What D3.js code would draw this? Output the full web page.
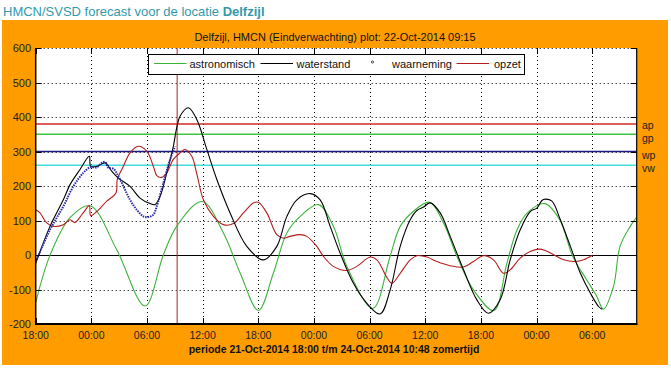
<!DOCTYPE html>
<html><head><meta charset="utf-8">
<script src="https://cdn.jsdelivr.net/npm/d3@7"></script>
<style>
body{margin:0;background:#fff;}
svg{display:block;font-family:Arial,"Liberation Sans",sans-serif;}
</style>
</head><body>
<svg id="c" width="671" height="368"></svg>
<script>
// ---- data (hours since 21-Oct-2014 18:00, water level in cm) ----
const startTime = new Date(2014, 9, 21, 18, 0);
const endTime = new Date(2014, 9, 24, 10, 48);
const plotTime = new Date(2014, 9, 22, 9, 15);

const astroHours = [0,1.54,3.7,5.86,8.74,11.79,13.76,15.2,17.94,20.24,22.04,24.01,25.63,27.08,28.51,30.49,32.1,33.55,36.35,38.2,39.3,40.7,42.46,43.97,45.42,47.2,49.4,50.8,51.9,53.0,54.9,56.5,57.9,59.4,60.5,61.2,62.3,63.0,64.1,64.8];
const astroValues = [-138,-1,108,143,15,-148,0,83,155,64,-52,-161,-52,64,112,146,83,-33,-155,-5,83,126,153,93,-4,-101,-161,-24,73,122,149,102,-4,-72,-120,-157,-91,25,83,110];

const waterHours = [0,1.54,2.98,3.7,4.78,5.78,5.93,6.58,7.48,8.2,8.91,10.17,11.25,12.33,12.86,13.41,14.13,14.84,15.21,15.57,16.46,17.37,18.45,19.53,20.96,22.76,24.55,26.0,27.08,28.16,29.59,30.67,31.75,32.83,34.26,35.71,37.14,38.22,39.3,40.38,41.1,41.82,42.54,43.61,44.69,46.13,47.57,48.82,50.08,51.16,52.24,53.32,54.04,54.58,54.94,55.66,56.57,57.65,58.73,59.81,60.71,61.06];
const waterValues = [-24,83,160,204,248,286,257,257,267,243,223,199,165,149,146,170,238,315,370,403,427,393,306,219,122,25,-14,25,112,160,178,160,83,5,-82,-140,-171,-101,25,102,129,139,151,122,54,-43,-130,-169,-130,-14,73,126,136,158,162,156,102,25,-53,-111,-150,-157];

const obsHours = [0,1.54,2.98,4.06,5.13,5.86,6.58,7.12,7.48,7.83,8.37,9.09,10.17,10.9,11.61,12.15,12.69,13.05,13.77,14.49,15.03];
const obsValues = [-20,73,141,199,238,254,254,267,270,253,250,219,160,131,112,110,117,141,209,277,315];

const surgeHours = [0,0.46,1.19,1.9,2.98,3.7,4.24,4.78,5.13,5.78,5.93,6.58,7.66,8.66,8.8,9.45,10.17,11.07,11.97,12.69,13.05,13.59,14.13,14.84,15.57,16.1,16.83,17.37,18.08,19.16,20.24,21.32,22.39,23.47,24.01,24.92,26.0,26.71,27.43,28.51,29.23,30.31,31.02,32.1,33.55,34.63,36.06,36.79,37.86,38.4,39.3,40.38,41.1,42.18,43.26,44.69,46.13,47.2,48.28,49.36,50.44,51.16,52.24,53.32,54.22,54.94,55.84,56.92,58.18,59.08,60.05];
const surgeValues = [131,122,93,83,88,102,94,110,122,143,114,126,156,180,219,257,296,315,301,257,230,225,238,277,296,306,286,235,160,112,88,91,122,151,153,122,59,49,54,59,54,25,-4,-33,-45,-33,-6,-14,-65,-82,-53,-14,-2,-6,-19,-31,-35,-19,-2,-14,-53,-43,-9,10,17,13,1,-14,-19,-14,0];

const levelNames = ["ap","gp","wp","vw"];
const levelValues = [380,350,300,260];

const yTickValues = [-200,-100,0,100,200,300,400,500,600];
const legendLabels = ["astronomisch","waterstand","waarneming","opzet"];

const pageTitle = "HMCN/SVSD forecast voor de locatie ";
const pageTitleBold = "Delfzijl";
const chartTitle = "Delfzijl, HMCN (Eindverwachting) plot: 22-Oct-2014 09:15";
const xLabel = "periode 21-Oct-2014 18:00 t/m 24-Oct-2014 10:48 zomertijd";

// ---- styles ----
const levelColors = ["#d42a2a","#3ec43e","#1a1a80","#40dede"];
const levelLabelOffsets = [5.5, 7.5, 7, 6.5];
const cAstro = "#3cb43c", cWater = "#000000", cObs = "#2a2aa8", cSurge = "#b41e1e";
const orange = "#ff9c00";

const toDate = h => new Date(startTime.getTime() + h * 3600e3);
const zip = (hs, vs) => hs.map((h, i) => ({t: toDate(h), v: vs[i]}));

const L = 35.7, R = 636.7, T = 48, B = 324;
const svg = d3.select("#c");
const x = d3.scaleTime().domain([startTime, endTime]).range([L, R]);
const y = d3.scaleLinear().domain([-200, 600]).range([B, T]);

// page title
const pt = svg.append("text").attr("x", 3).attr("y", 16).attr("fill", "#3399aa").attr("font-size", 13);
pt.append("tspan").text(pageTitle);
pt.append("tspan").attr("font-weight", "bold").text(pageTitleBold);

// orange panel
svg.append("rect").attr("x", 2).attr("y", 20).attr("width", 666).attr("height", 345).attr("fill", orange);

// chart title
svg.append("text").attr("x", 335).attr("y", 40.5).attr("text-anchor", "middle")
  .attr("font-size", 11).attr("fill", "#111").text(chartTitle);

// plot bg
svg.append("rect").attr("x", L).attr("y", T).attr("width", R - L).attr("height", B - T).attr("fill", "#fff");

svg.append("clipPath").attr("id", "clip").append("rect")
  .attr("x", L).attr("y", T).attr("width", R - L).attr("height", B - T);

const xTicks = d3.timeHour.every(6).range(startTime, endTime);
const grid = svg.append("g").attr("stroke", "#000").attr("stroke-width", 1).attr("stroke-dasharray", "1,3");
grid.selectAll(".gx").data(xTicks.slice(1)).join("line")
  .attr("x1", d => Math.round(x(d)) + 0.5).attr("x2", d => Math.round(x(d)) + 0.5)
  .attr("y1", T).attr("y2", B);
grid.selectAll(".gy").data(yTickValues.filter(v => v !== 0 && v !== -200)).join("line")
  .attr("y1", d => Math.round(y(d)) + 0.5).attr("y2", d => Math.round(y(d)) + 0.5)
  .attr("x1", L).attr("x2", R);

// zero line
svg.append("line").attr("x1", L).attr("x2", R).attr("y1", Math.round(y(0)) + 0.5).attr("y2", Math.round(y(0)) + 0.5)
  .attr("stroke", "#000").attr("stroke-width", 1.2);

// level lines
svg.selectAll(".lvl").data(levelValues).join("line")
  .attr("x1", L).attr("x2", R).attr("y1", d => y(d)).attr("y2", d => y(d))
  .attr("stroke", (d, i) => levelColors[i]).attr("stroke-width", 1.5);
svg.selectAll(".lvlt").data(levelValues).join("text")
  .attr("x", 642).attr("y", (d, i) => y(d) + levelLabelOffsets[i]).attr("font-size", 10.5).attr("fill", "#222")
  .text((d, i) => levelNames[i]);

// now line
svg.append("line").attr("x1", x(plotTime)).attr("x2", x(plotTime)).attr("y1", T).attr("y2", B)
  .attr("stroke", "#b42020").attr("stroke-width", 1);

const line = d3.line().x(d => x(d.t)).y(d => y(d.v)).curve(d3.curveCatmullRom.alpha(0.5));
const plot = svg.append("g").attr("clip-path", "url(#clip)").attr("fill", "none");
plot.append("path").attr("d", line(zip(astroHours, astroValues))).attr("stroke", cAstro).attr("stroke-width", 1.1);
plot.append("path").attr("d", line(zip(surgeHours, surgeValues))).attr("stroke", cSurge).attr("stroke-width", 1.1);
plot.append("path").attr("d", line(zip(waterHours, waterValues))).attr("stroke", cWater).attr("stroke-width", 1.1);
plot.append("path").attr("d", line(zip(obsHours, obsValues))).attr("stroke", cObs).attr("stroke-width", 2)
  .attr("stroke-dasharray", "1.5,1");

// axes frame
const fr = svg.append("g").attr("stroke", "#000");
fr.append("line").attr("x1", L).attr("x2", L).attr("y1", T).attr("y2", B + 1).attr("stroke-width", 1.5);
fr.append("line").attr("x1", R).attr("x2", R).attr("y1", T).attr("y2", B + 1).attr("stroke-width", 1.2);
fr.append("line").attr("x1", L).attr("x2", R + 0.6).attr("y1", B).attr("y2", B).attr("stroke-width", 2);
// ticks inward
fr.selectAll(".tb").data(xTicks).join("line")
  .attr("x1", d => Math.round(x(d)) + 0.5).attr("x2", d => Math.round(x(d)) + 0.5)
  .attr("y1", B).attr("y2", B - 6);
fr.selectAll(".tt").data(xTicks).join("line")
  .attr("x1", d => Math.round(x(d)) + 0.5).attr("x2", d => Math.round(x(d)) + 0.5)
  .attr("y1", T).attr("y2", T + 6);
fr.selectAll(".tl").data(yTickValues).join("line")
  .attr("y1", d => Math.round(y(d)) + 0.5).attr("y2", d => Math.round(y(d)) + 0.5)
  .attr("x1", L).attr("x2", L + 6);
fr.selectAll(".tr").data(yTickValues).join("line")
  .attr("y1", d => Math.round(y(d)) + 0.5).attr("y2", d => Math.round(y(d)) + 0.5)
  .attr("x1", R).attr("x2", R - 6);

// tick labels
const fmt = d3.timeFormat("%H:%M");
svg.selectAll(".xl").data(xTicks).join("text")
  .attr("x", d => x(d)).attr("y", 338.5).attr("text-anchor", "middle")
  .attr("font-size", 10.5).attr("fill", "#222").text(d => fmt(d));
svg.selectAll(".yl").data(yTickValues).join("text")
  .attr("x", 31).attr("y", d => y(d) + 4).attr("text-anchor", "end")
  .attr("font-size", 11).attr("fill", "#222").text(d => d);

// x label
svg.append("text").attr("x", 334).attr("y", 352.5).attr("text-anchor", "middle")
  .attr("font-size", 10.5).attr("font-weight", "bold").attr("fill", "#111").text(xLabel);

// legend
const lg = svg.append("g");
lg.append("rect").attr("x", 148.5).attr("y", 54.5).attr("width", 376).attr("height", 20)
  .attr("fill", "#fff").attr("stroke", "#000").attr("stroke-width", 1);
const legX = [154, 260.5, 368, 456.5];
const legTX = [189.5, 296.5, 392, 494];
const legColors = [cAstro, cWater, cObs, cSurge];
legendLabels.forEach((lab, i) => {
  if (i === 2) {
    lg.append("circle").attr("cx", 372.5).attr("cy", 62).attr("r", 1.1).attr("fill", "none").attr("stroke", "#222").attr("stroke-width", 0.8);
  } else {
    lg.append("line").attr("x1", legX[i]).attr("x2", legX[i] + 32.5).attr("y1", 63.5).attr("y2", 63.5)
      .attr("stroke", legColors[i]).attr("stroke-width", 1.1);
  }
  lg.append("text").attr("x", legTX[i]).attr("y", 68).attr("font-size", 11).attr("fill", "#111").text(lab);
});
</script>
</body></html>
